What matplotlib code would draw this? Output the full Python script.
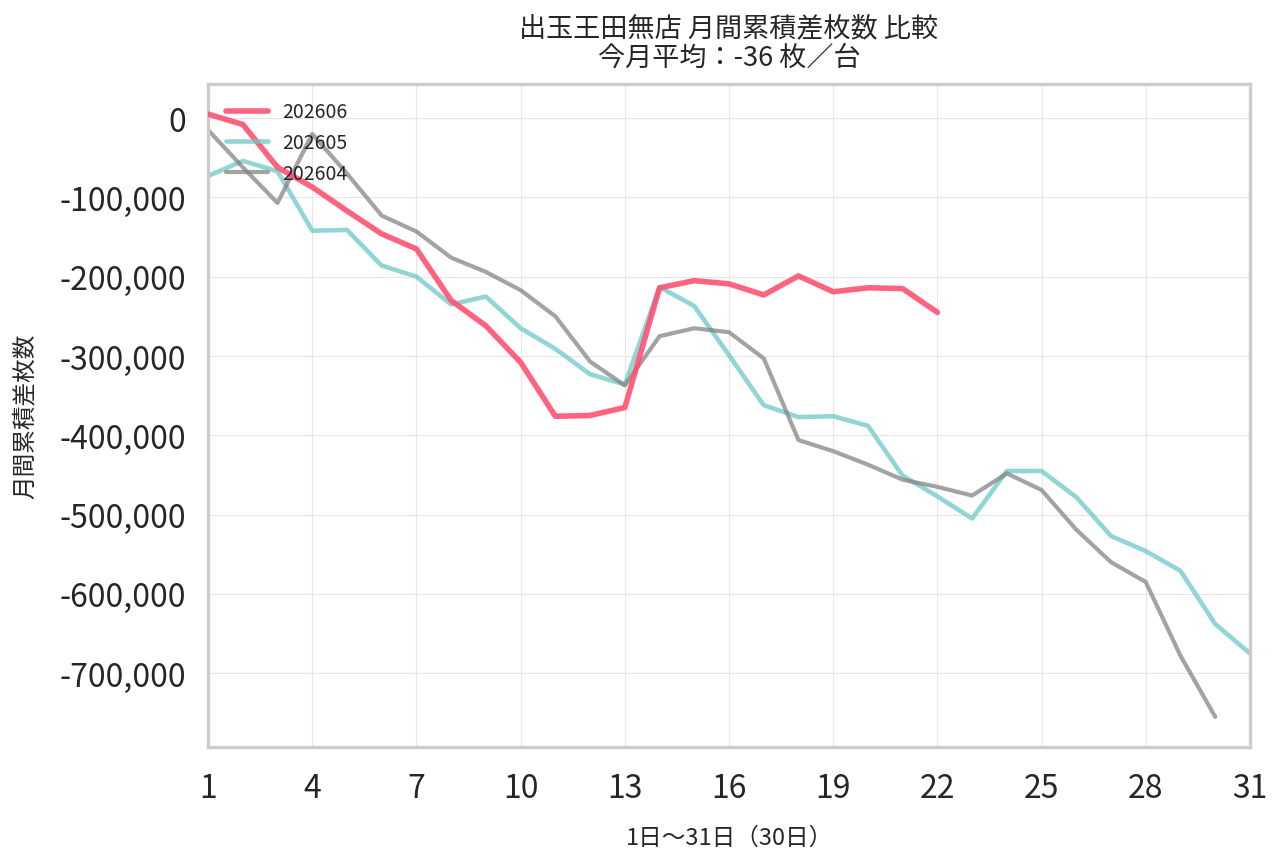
import matplotlib
matplotlib.use("Agg")
import matplotlib.pyplot as plt
import seaborn as sns
from matplotlib.ticker import FuncFormatter

sns.set_theme(style="whitegrid")
plt.rcParams['font.family'] = ['Noto Sans CJK JP', 'DejaVu Sans']

days_jun = list(range(1, 23))
vals_jun = [5000, -8000, -62000, -87000, -117000, -146000, -165000, -230000, -262000, -308000,
            -376000, -375000, -365000, -214000, -205000, -209000, -223000, -199000, -219000,
            -214000, -215000, -245000]

days_may = list(range(1, 32))
vals_may = [-73000, -54000, -67000, -142000, -141000, -186000, -200000, -235000, -225000, -265000,
            -291000, -323000, -336000, -213000, -237000, -299000, -362000, -377000, -376000,
            -388000, -451000, -477000, -505000, -445000, -445000, -478000, -527000, -546000,
            -571000, -638000, -675000]

days_apr = list(range(1, 31))
vals_apr = [-15000, -62000, -107000, -20000, -70000, -123000, -143000, -176000, -194000, -217000,
            -250000, -307000, -337000, -275000, -265000, -270000, -303000, -406000, -420000,
            -437000, -456000, -465000, -476000, -448000, -469000, -519000, -560000, -585000,
            -678000, -755000]

labels = ["202606", "202605", "202604"]
x_ticks = list(range(1, 32, 3))
title = "出玉王田無店 月間累積差枚数 比較\n今月平均：-36 枚／台"
xlabel = "1日〜31日（30日）"
ylabel = "月間累積差枚数"

fig = plt.figure(figsize=(12.82, 8.62), dpi=100)
ax = fig.add_axes([0.1623, 0.1323, 0.8127, 0.7691])

ax.plot(days_jun, vals_jun, color="#ff4d6f", lw=4.0, alpha=0.88, label=labels[0], zorder=3)
ax.plot(days_may, vals_may, color="#6cc9c6", lw=3.3, alpha=0.75, label=labels[1], zorder=2)
ax.plot(days_apr, vals_apr, color="#808080", lw=3.0, alpha=0.72, label=labels[2], zorder=2)

ax.set_xlim(1, 31)
ax.margins(y=0.05)
ax.set_xticks(x_ticks)
ax.yaxis.set_major_formatter(FuncFormatter(lambda v, p: f"{int(v):,}"))
ax.tick_params(axis='both', labelsize=23, colors="#262626")
ax.tick_params(axis='x', pad=12)
ax.tick_params(axis='y', pad=10)
ax.grid(True, color="#e6e6e6", lw=0.8)
for s in ax.spines.values():
    s.set_color("#cccccc")
    s.set_linewidth(2.4)

ax.set_title(title, fontsize=19.5, color="#262626", pad=14, linespacing=1.1)
ax.set_xlabel(xlabel, fontsize=17, color="#262626", labelpad=16)
ax.set_ylabel(ylabel, fontsize=17, color="#262626", labelpad=16)

leg = ax.legend(loc="upper left", frameon=False, fontsize=14, handlelength=2.2,
                handletextpad=0.7, borderaxespad=0.5, labelspacing=0.5)
for t in leg.get_texts():
    t.set_color("#262626")

fig.savefig("out.png", dpi=100)
